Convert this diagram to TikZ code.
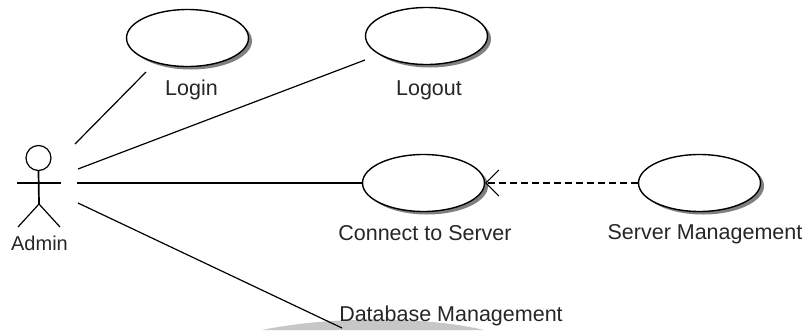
\documentclass[tikz,border=0pt]{standalone}
\usepackage{fontspec}
\setmainfont{Liberation Sans}
\usetikzlibrary{shapes.geometric,arrows.meta}
\tikzset{
 x=1pt,y=-1pt,
 usecase/.style={ellipse,draw=black,line width=1.4pt,fill=white,minimum width=122pt,minimum height=57pt,inner sep=0pt,
   preaction={draw=none,fill=black!50,transform canvas={shift={(3.5pt,-3pt)}}}},
 lbl/.style={font=\fontsize{21.5}{24}\selectfont,text=black!85,inner sep=0pt,anchor=center},
 assoc/.style={draw=black,line width=1.2pt},
 body/.style={draw=black,line width=1.2pt},
}
\begin{document}
\begin{tikzpicture}
\useasboundingbox (0,0) rectangle (806,330);
\fill[black!22] (262,330) .. controls (330,316) and (425,316) .. (484,330) -- cycle;
\node[usecase] (login) at (187.5,38) {};
\node[usecase] (logout) at (426.5,36) {};
\node[usecase] (connect) at (423.5,183) {};
\node[usecase] (server) at (699.5,183) {};
\node[lbl] (tlogin) at (191.5,90) {Login};
\node[lbl] (tlogout) at (429,90) {Logout};
\node[lbl] (tconnect) at (425,233) {Connect to Server};
\node[lbl] (tserver) at (705,234) {Server Management};
\node[lbl] (tdb) at (451,316) {Database Management};
\node[lbl,font=\fontsize{20}{22}\selectfont] (tadmin) at (39.5,243) {Admin};
% actor
\node[circle,draw=black,line width=1.2pt,minimum size=25pt,inner sep=0pt] (head) at (38.5,158) {};
\coordinate (hip) at (39,204);
\coordinate (armL) at (17,183);
\coordinate (armR) at (61,183);
\coordinate (footL) at (18,227);
\coordinate (footR) at (60,227);
\coordinate (a1) at (75,144);
\coordinate (a2) at (78,169);
\coordinate (a3) at (77,183);
\coordinate (a4) at (78,203);
\coordinate (b1) at (146,72);
\coordinate (b2) at (365,60);
\coordinate (b4) at (342,328);
\draw[body,line width=1.7pt] (head.south) -- (hip);
\draw[body] (armL) -- (armR);
\draw[body] (footL) -- (hip) -- (footR);
\draw[assoc] (a1) -- (b1);
\draw[assoc] (a2) -- (b2);
\draw[assoc] (a3) -- (connect.west);
\draw[assoc] (a4) -- (b4);
\draw[assoc,line width=1.3pt,dash pattern=on 7pt off 4pt,-{Straight Barb[length=13pt,width=26pt,line width=1pt]}] (server.west) -- (connect.east);
\end{tikzpicture}
\end{document}
